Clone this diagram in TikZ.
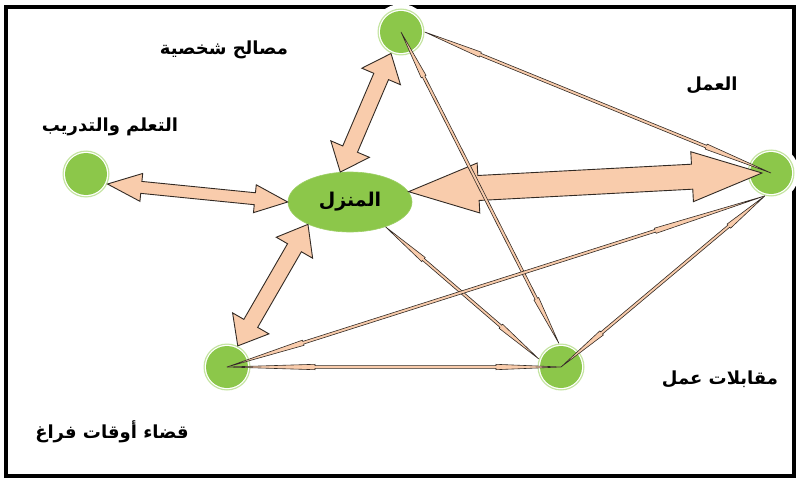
\documentclass[tikz,border=0pt]{standalone}
\usepackage{fontspec}
\usetikzlibrary{calc,shapes.geometric}
\TeXXeTstate=1
\newfontfamily\arabicfont[Script=Arabic]{DejaVu Sans}

\definecolor{nodegreen}{RGB}{140,199,74}
\definecolor{ringgreen}{RGB}{196,228,160}
\definecolor{peach}{RGB}{249,204,172}
\definecolor{edgedark}{RGB}{50,42,36}

% double-headed block arrow: [style] start, end, shaft half-width,
% head half-width, head length at start, head length at end
\newcommand\blockarrow[7][]{%
  \draw[#1] (#2)
    -- ($(#2)!#6!(#3)!#5!90:(#3)$)
    -- ($(#2)!#6!(#3)!#4!90:(#3)$)
    -- ($(#3)!#7!(#2)!#4!-90:(#2)$)
    -- ($(#3)!#7!(#2)!#5!-90:(#2)$)
    -- (#3)
    -- ($(#3)!#7!(#2)!#5!90:(#2)$)
    -- ($(#3)!#7!(#2)!#4!90:(#2)$)
    -- ($(#2)!#6!(#3)!#4!-90:(#3)$)
    -- ($(#2)!#6!(#3)!#5!-90:(#3)$)
    -- cycle;}

\tikzset{
  hub/.style={circle, minimum size=47pt, inner sep=0pt, fill=ringgreen,
    preaction={draw=white, line width=9pt},
    path picture={
      \fill[white] (path picture bounding box.center) circle (22.2pt);
      \fill[nodegreen] (path picture bounding box.center) circle (21pt);}},
  homebox/.style={ellipse, minimum width=124pt, minimum height=60pt,
    inner sep=0pt, fill=nodegreen, draw=nodegreen!85!white, line width=0.6pt},
  fatarrow/.style={fill=peach, draw=edgedark, line width=0.9pt, line join=miter},
  thinarrow/.style={fill=peach, draw=edgedark, line width=0.6pt, line join=miter},
  lbl/.style={font=\arabicfont\bfseries\fontsize{18}{20}\selectfont, inner sep=0pt},
  frame/.style={draw=black, line width=3.6pt}
}

\begin{document}
\begin{tikzpicture}[x=1pt, y=-1pt]
  \useasboundingbox (0,0) rectangle (799,481);
  \fill[white] (0,0) rectangle (799,481);

  % outer frame
  \draw[frame] (6,7) rectangle (794,476);

  % places
  \node[hub] (top)     at (401,32)  {};
  \node[hub] (work)    at (771,173) {};
  \node[hub] (learn)   at (86,174)  {};
  \node[hub] (leisure) at (227,367) {};
  \node[hub] (interv)  at (561,367) {};
  \node[homebox] (home) at (350,202)
    {\arabicfont\bfseries\fontsize{19}{21}\selectfont\beginR المنزل\endR};

  % wide two-way arrows around home
  \blockarrow[fatarrow]{learn.-25}{home.west}{6pt}{14pt}{34pt}{33pt}
  \blockarrow[fatarrow]{home.108}{top.-115}{8pt}{21pt}{25pt}{25pt}
  \blockarrow[fatarrow]{home.-152}{leisure.63}{8pt}{21pt}{27pt}{26pt}
  \blockarrow[fatarrow]{home.10}{$(work.center)+(-9,0)$}{12.5pt}{25pt}{70pt}{70pt}

  % slim two-way arrows between the outer places
  \blockarrow[thinarrow]{top.0}{work.center}{1.4pt}{2.7pt}{60pt}{70pt}
  \blockarrow[thinarrow]{top.center}{interv.95}{1.4pt}{2.7pt}{50pt}{50pt}
  \blockarrow[thinarrow]{home.-35}{interv.160}{1.4pt}{2.7pt}{50pt}{50pt}
  \blockarrow[thinarrow]{leisure.center}{work.-105}{1.4pt}{2.7pt}{80pt}{115pt}
  \blockarrow[thinarrow]{interv.center}{work.-105}{1.4pt}{2.7pt}{53pt}{47pt}
  \blockarrow[thinarrow]{leisure.center}{interv.center}{1.4pt}{2.7pt}{88pt}{65pt}

  % labels
  \node[lbl] (ltop)     at (224,50)  {\beginR مصالح شخصية\endR};
  \node[lbl] (lwork)    at (712,85)  {\beginR العمل\endR};
  \node[lbl] (llearn)   at (110,127) {\beginR التعلم والتدريب\endR};
  \node[lbl] (linterv)  at (720,379) {\beginR مقابلات عمل\endR};
  \node[lbl] (lleisure) at (112,432) {\beginR قضاء أوقات فراغ\endR};
\end{tikzpicture}
\end{document}
